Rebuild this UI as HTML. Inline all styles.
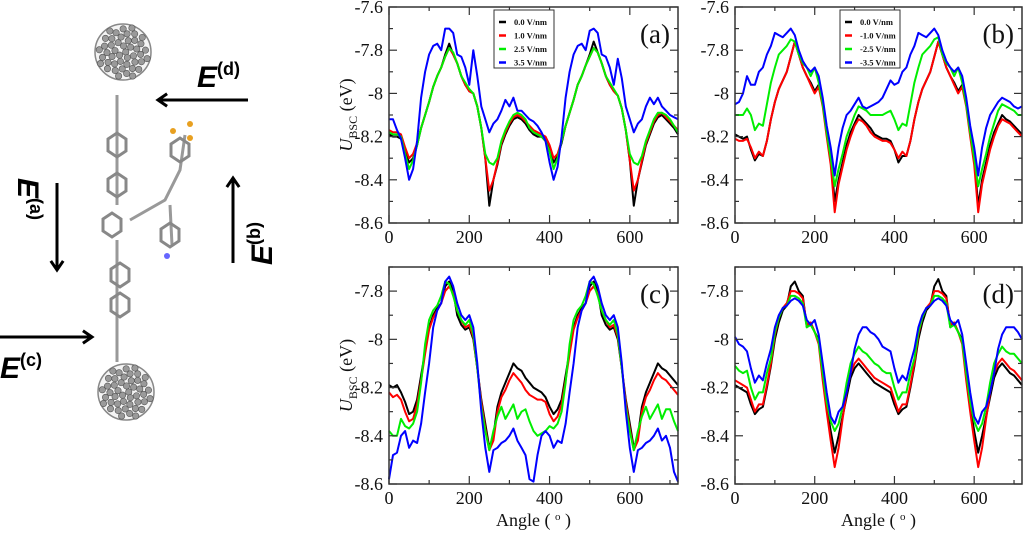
<!DOCTYPE html>
<html><head><meta charset="utf-8">
<style>
body{margin:0;background:#fff;width:1024px;height:535px;overflow:hidden;font-family:"Liberation Serif",serif}
svg{position:absolute;left:0;top:0}
</style></head><body>
<svg id="svg" width="1024" height="535" viewBox="0 0 1024 535">
<g id="mol"></g>
<g id="charts"></g>
</svg>
<script>
const angles=[];for(let a=0;a<=720;a+=10)angles.push(a);
const xTicks=[0,200,400,600];
const yTicksTop=[-7.6,-7.8,-8,-8.2,-8.4,-8.6];
const yTicksBottom=[-7.8,-8,-8.2,-8.4,-8.6];
const legendA=["0.0 V/nm","1.0 V/nm","2.5 V/nm","3.5 V/nm"];
const legendB=["0.0 V/nm","-1.0 V/nm","-2.5 V/nm","-3.5 V/nm"];
const colors=["#000","#f00","#0e0","#00f"];

const a0=[-8.19,-8.20,-8.20,-8.21,-8.27,-8.32,-8.30,-8.24,-8.16,-8.10,-8.04,-7.97,-7.92,-7.88,-7.82,-7.77,-7.82,-7.86,-7.92,-7.96,-7.99,-8.00,-8.06,-8.16,-8.30,-8.52,-8.40,-8.33,-8.24,-8.19,-8.15,-8.12,-8.11,-8.12,-8.14,-8.17,
-8.19,-8.20,-8.20,-8.22,-8.25,-8.32,-8.29,-8.23,-8.15,-8.09,-8.03,-7.96,-7.92,-7.87,-7.82,-7.76,-7.81,-7.86,-7.92,-7.96,-7.99,-8.01,-8.07,-8.17,-8.31,-8.52,-8.40,-8.32,-8.24,-8.19,-8.14,-8.11,-8.10,-8.12,-8.14,-8.16,-8.19];
const a1=[-8.17,-8.18,-8.18,-8.19,-8.25,-8.30,-8.28,-8.23,-8.16,-8.10,-8.04,-7.97,-7.92,-7.88,-7.83,-7.79,-7.82,-7.86,-7.92,-7.96,-7.99,-8.00,-8.06,-8.16,-8.30,-8.45,-8.40,-8.32,-8.23,-8.18,-8.14,-8.11,-8.10,-8.11,-8.13,-8.15,
-8.17,-8.18,-8.19,-8.20,-8.24,-8.30,-8.28,-8.22,-8.15,-8.09,-8.03,-7.96,-7.92,-7.87,-7.83,-7.79,-7.81,-7.86,-7.92,-7.96,-7.99,-8.01,-8.07,-8.17,-8.31,-8.45,-8.40,-8.31,-8.23,-8.18,-8.13,-8.10,-8.09,-8.11,-8.13,-8.15,-8.17];
const a2=[-8.18,-8.19,-8.19,-8.20,-8.28,-8.35,-8.31,-8.24,-8.16,-8.10,-8.04,-7.97,-7.92,-7.88,-7.83,-7.79,-7.81,-7.86,-7.92,-7.95,-7.98,-8.00,-8.06,-8.16,-8.28,-8.32,-8.33,-8.30,-8.22,-8.17,-8.13,-8.10,-8.09,-8.10,-8.12,-8.16,
-8.18,-8.19,-8.20,-8.22,-8.27,-8.35,-8.30,-8.22,-8.15,-8.09,-8.03,-7.96,-7.92,-7.87,-7.83,-7.79,-7.81,-7.86,-7.92,-7.95,-7.98,-8.01,-8.07,-8.17,-8.28,-8.32,-8.33,-8.29,-8.22,-8.17,-8.12,-8.09,-8.09,-8.10,-8.12,-8.15,-8.18];
const a3=[-8.12,-8.12,-8.17,-8.21,-8.30,-8.40,-8.35,-8.22,-8.02,-7.90,-7.82,-7.78,-7.77,-7.80,-7.70,-7.70,-7.72,-7.82,-7.83,-7.88,-7.96,-7.80,-7.92,-8.06,-8.12,-8.18,-8.14,-8.12,-8.08,-8.03,-8.06,-8.02,-8.08,-8.08,-8.10,-8.12,
-8.13,-8.15,-8.18,-8.22,-8.32,-8.40,-8.34,-8.20,-8.02,-7.90,-7.82,-7.78,-7.77,-7.80,-7.71,-7.70,-7.72,-7.82,-7.83,-7.88,-7.96,-7.84,-7.93,-8.06,-8.12,-8.18,-8.14,-8.12,-8.06,-8.02,-8.05,-8.02,-8.06,-8.08,-8.10,-8.11,-8.12];

const b0=[-8.19,-8.20,-8.21,-8.20,-8.26,-8.31,-8.28,-8.29,-8.22,-8.12,-8.04,-7.98,-7.94,-7.90,-7.83,-7.76,-7.82,-7.88,-7.92,-7.95,-7.99,-7.96,-8.05,-8.18,-8.30,-8.50,-8.40,-8.32,-8.24,-8.18,-8.14,-8.10,-8.12,-8.14,-8.16,-8.19,
-8.20,-8.21,-8.21,-8.22,-8.26,-8.32,-8.29,-8.29,-8.22,-8.12,-8.04,-7.98,-7.94,-7.90,-7.83,-7.76,-7.82,-7.88,-7.92,-7.95,-7.99,-7.96,-8.05,-8.18,-8.30,-8.52,-8.40,-8.32,-8.24,-8.18,-8.14,-8.10,-8.12,-8.13,-8.15,-8.17,-8.19];
const b1=[-8.21,-8.22,-8.22,-8.21,-8.25,-8.30,-8.27,-8.29,-8.22,-8.12,-8.04,-7.98,-7.94,-7.90,-7.83,-7.76,-7.82,-7.88,-7.92,-7.96,-8.00,-7.97,-8.06,-8.20,-8.33,-8.55,-8.42,-8.34,-8.26,-8.20,-8.15,-8.12,-8.13,-8.15,-8.18,-8.20,
-8.21,-8.22,-8.22,-8.23,-8.26,-8.30,-8.27,-8.29,-8.22,-8.12,-8.04,-7.98,-7.94,-7.90,-7.83,-7.76,-7.82,-7.88,-7.92,-7.96,-8.00,-7.97,-8.06,-8.20,-8.33,-8.55,-8.42,-8.34,-8.26,-8.20,-8.15,-8.12,-8.13,-8.14,-8.16,-8.18,-8.20];
const b2=[-8.10,-8.10,-8.10,-8.07,-8.10,-8.17,-8.14,-8.15,-8.05,-7.95,-7.88,-7.82,-7.80,-7.78,-7.75,-7.76,-7.82,-7.86,-7.88,-7.92,-7.88,-7.95,-8.05,-8.18,-8.30,-8.43,-8.35,-8.28,-8.20,-8.15,-8.10,-8.06,-8.07,-8.08,-8.10,-8.10,
-8.10,-8.10,-8.09,-8.08,-8.12,-8.17,-8.14,-8.15,-8.05,-7.95,-7.88,-7.82,-7.80,-7.78,-7.75,-7.74,-7.82,-7.86,-7.88,-7.92,-7.88,-7.95,-8.05,-8.18,-8.30,-8.43,-8.35,-8.28,-8.20,-8.14,-8.08,-8.05,-8.06,-8.07,-8.08,-8.10,-8.10];
const b3=[-8.05,-8.04,-8.00,-7.92,-7.96,-7.96,-7.90,-7.88,-7.82,-7.78,-7.72,-7.73,-7.74,-7.72,-7.70,-7.73,-7.80,-7.85,-7.88,-7.90,-7.88,-7.92,-8.02,-8.15,-8.25,-8.38,-8.25,-8.16,-8.10,-8.08,-8.05,-8.02,-8.06,-8.07,-8.06,-8.05,
-8.04,-8.02,-7.98,-7.94,-7.96,-7.95,-7.90,-7.88,-7.82,-7.78,-7.72,-7.73,-7.74,-7.72,-7.70,-7.73,-7.80,-7.85,-7.88,-7.90,-7.88,-7.92,-8.02,-8.15,-8.25,-8.38,-8.25,-8.16,-8.10,-8.07,-8.04,-8.02,-8.03,-8.04,-8.06,-8.07,-8.06];

const c0=[-8.19,-8.20,-8.19,-8.22,-8.26,-8.31,-8.30,-8.25,-8.15,-8.05,-7.95,-7.90,-7.87,-7.85,-7.78,-7.76,-7.80,-7.90,-7.94,-7.96,-7.95,-8.00,-8.12,-8.25,-8.35,-8.45,-8.40,-8.28,-8.22,-8.18,-8.14,-8.10,-8.12,-8.13,-8.16,-8.18,
-8.20,-8.21,-8.22,-8.24,-8.28,-8.31,-8.29,-8.25,-8.15,-8.05,-7.95,-7.90,-7.87,-7.85,-7.78,-7.76,-7.80,-7.90,-7.94,-7.96,-7.95,-8.00,-8.12,-8.25,-8.35,-8.45,-8.40,-8.28,-8.22,-8.18,-8.14,-8.10,-8.12,-8.13,-8.15,-8.17,-8.19];
const c1=[-8.22,-8.24,-8.23,-8.25,-8.30,-8.34,-8.33,-8.27,-8.17,-8.06,-7.96,-7.91,-7.88,-7.85,-7.80,-7.78,-7.81,-7.88,-7.92,-7.95,-7.94,-7.99,-8.12,-8.26,-8.37,-8.46,-8.42,-8.30,-8.24,-8.21,-8.17,-8.14,-8.16,-8.18,-8.21,-8.23,
-8.24,-8.25,-8.25,-8.26,-8.31,-8.34,-8.32,-8.27,-8.17,-8.06,-7.96,-7.91,-7.88,-7.85,-7.80,-7.78,-7.81,-7.88,-7.92,-7.95,-7.94,-7.99,-8.12,-8.26,-8.37,-8.46,-8.42,-8.30,-8.24,-8.21,-8.17,-8.14,-8.16,-8.17,-8.19,-8.21,-8.23];
const c2=[-8.38,-8.40,-8.40,-8.33,-8.36,-8.37,-8.35,-8.30,-8.18,-8.02,-7.92,-7.88,-7.86,-7.82,-7.76,-7.77,-7.82,-7.88,-7.92,-7.94,-7.92,-7.98,-8.12,-8.28,-8.38,-8.46,-8.38,-8.32,-8.28,-8.33,-8.30,-8.27,-8.33,-8.30,-8.29,-8.34,
-8.38,-8.40,-8.39,-8.38,-8.36,-8.37,-8.35,-8.30,-8.18,-8.02,-7.92,-7.88,-7.86,-7.82,-7.76,-7.77,-7.82,-7.88,-7.92,-7.94,-7.92,-7.98,-8.12,-8.28,-8.38,-8.46,-8.38,-8.32,-8.28,-8.33,-8.30,-8.27,-8.33,-8.29,-8.29,-8.34,-8.38];
const c3=[-8.58,-8.48,-8.47,-8.40,-8.38,-8.45,-8.42,-8.43,-8.35,-8.22,-8.10,-7.95,-7.88,-7.85,-7.76,-7.74,-7.78,-7.85,-7.90,-7.92,-7.90,-7.95,-8.10,-8.30,-8.45,-8.55,-8.46,-8.45,-8.43,-8.42,-8.40,-8.37,-8.42,-8.45,-8.48,-8.58,
-8.59,-8.48,-8.40,-8.38,-8.40,-8.45,-8.42,-8.43,-8.35,-8.22,-8.10,-7.95,-7.88,-7.85,-7.76,-7.74,-7.78,-7.85,-7.90,-7.92,-7.90,-7.95,-8.10,-8.30,-8.45,-8.55,-8.46,-8.45,-8.43,-8.42,-8.40,-8.37,-8.42,-8.40,-8.45,-8.55,-8.59];

const d0=[-8.19,-8.20,-8.21,-8.22,-8.27,-8.31,-8.29,-8.28,-8.20,-8.11,-8.00,-7.93,-7.88,-7.86,-7.78,-7.76,-7.80,-7.82,-7.95,-7.93,-7.97,-8.00,-8.15,-8.28,-8.38,-8.47,-8.40,-8.32,-8.24,-8.16,-8.12,-8.10,-8.12,-8.14,-8.16,-8.18,
-8.19,-8.20,-8.21,-8.22,-8.27,-8.31,-8.29,-8.28,-8.20,-8.11,-8.00,-7.93,-7.88,-7.86,-7.78,-7.75,-7.80,-7.82,-7.95,-7.93,-7.97,-8.00,-8.15,-8.28,-8.38,-8.47,-8.40,-8.32,-8.24,-8.16,-8.12,-8.10,-8.12,-8.14,-8.15,-8.17,-8.19];
const d1=[-8.17,-8.18,-8.19,-8.20,-8.25,-8.30,-8.27,-8.27,-8.19,-8.10,-7.98,-7.91,-7.87,-7.85,-7.80,-7.80,-7.81,-7.83,-7.94,-7.93,-7.97,-8.02,-8.17,-8.30,-8.42,-8.53,-8.45,-8.33,-8.22,-8.14,-8.10,-8.08,-8.10,-8.12,-8.14,-8.16,
-8.17,-8.18,-8.19,-8.20,-8.25,-8.30,-8.27,-8.27,-8.19,-8.10,-7.98,-7.91,-7.87,-7.85,-7.80,-7.80,-7.81,-7.83,-7.94,-7.93,-7.97,-8.02,-8.17,-8.30,-8.42,-8.53,-8.45,-8.33,-8.22,-8.14,-8.10,-8.08,-8.10,-8.12,-8.13,-8.15,-8.17];
const d2=[-8.11,-8.13,-8.14,-8.13,-8.20,-8.25,-8.22,-8.22,-8.14,-8.08,-7.97,-7.91,-7.87,-7.86,-7.82,-7.82,-7.83,-7.85,-7.95,-7.94,-7.97,-8.01,-8.14,-8.26,-8.34,-8.38,-8.35,-8.28,-8.18,-8.10,-8.06,-8.03,-8.05,-8.06,-8.08,-8.10,
-8.11,-8.13,-8.14,-8.14,-8.20,-8.25,-8.22,-8.22,-8.14,-8.08,-7.97,-7.91,-7.87,-7.86,-7.82,-7.82,-7.83,-7.85,-7.95,-7.94,-7.97,-8.01,-8.14,-8.26,-8.34,-8.38,-8.35,-8.28,-8.18,-8.10,-8.06,-8.03,-8.05,-8.06,-8.06,-8.08,-8.10];
const d3=[-7.99,-8.02,-8.03,-8.05,-8.12,-8.18,-8.15,-8.17,-8.10,-8.04,-7.95,-7.90,-7.87,-7.86,-7.84,-7.83,-7.84,-7.86,-7.92,-7.94,-7.92,-7.98,-8.10,-8.22,-8.32,-8.35,-8.30,-8.28,-8.22,-8.14,-8.04,-7.98,-7.95,-7.95,-7.97,-7.98,
-8.00,-8.03,-8.04,-8.05,-8.12,-8.18,-8.15,-8.17,-8.10,-8.04,-7.95,-7.90,-7.87,-7.86,-7.84,-7.83,-7.84,-7.86,-7.92,-7.94,-7.92,-7.98,-8.10,-8.22,-8.32,-8.35,-8.30,-8.28,-8.22,-8.14,-8.04,-7.98,-7.95,-7.95,-7.95,-7.97,-8.00];

const NS='http://www.w3.org/2000/svg';
function el(tag,attrs,parent,text){const e=document.createElementNS(NS,tag);for(const k in attrs)e.setAttribute(k,attrs[k]);if(text!==undefined)e.textContent=text;parent.appendChild(e);return e;}
const charts=document.getElementById('charts');

function panel(cfg){
  const g=el('g',{},charts);
  
  
  const {x0,x1,y0,y1,ymax,ymin}=cfg;
  const sx=v=>x0+(v-0)/(720-0)*(x1-x0);
  const sy=v=>y0+(ymax-v)/(ymax-ymin)*(y1-y0);
  const sg=el('g',{},g);
  
  
  cfg.series.forEach((s,i)=>{
    const d=angles.map((a,j)=>(j?'L':'M')+sx(a).toFixed(1)+','+sy(s[j]).toFixed(1)).join('');
    const p=el('path',{d:d,fill:'none',stroke:colors[i],'stroke-width':2,'stroke-linejoin':'round'},sg);
    
    
  });
  const fr=el('rect',{x:x0,y:y0,width:x1-x0,height:y1-y0,fill:'none',stroke:'#333','stroke-width':1.5},g);
  
  
  for(let a=0;a<=720;a+=100){
    const L=a%200===0?8:4;
    el('line',{x1:sx(a),x2:sx(a),y1:y1,y2:y1-L,stroke:'#333','stroke-width':1.2},g);
    el('line',{x1:sx(a),x2:sx(a),y1:y0,y2:y0+L,stroke:'#333','stroke-width':1.2},g);
  }
  xTicks.forEach(a=>{
    const t=el('text',{x:sx(a),y:y1+20,'font-size':18,'text-anchor':'middle',fill:'#111'},g,String(a));
    
    
  });
  for(let k=Math.round(ymin*10);k<=Math.round(ymax*10);k++){
    const v=k/10;const L=(k%2===0)?8:4;
    el('line',{x1:x0,x2:x0+L,y1:sy(v),y2:sy(v),stroke:'#333','stroke-width':1.2},g);
    el('line',{x1:x1,x2:x1-L,y1:sy(v),y2:sy(v),stroke:'#333','stroke-width':1.2},g);
  }
  cfg.yt.forEach(v=>{
    const t=el('text',{x:x0-6,y:sy(v)+6,'font-size':18,'text-anchor':'end',fill:'#111'},g,v===-8?'-8':v.toFixed(1));
    
    
  });
  const lab=el('text',{x:x1-8,y:y0+36,'font-size':27,'text-anchor':'end',fill:'#111'},g,'('+cfg.id+')');
  
  
  if(cfg.legend){
    const lg=el('g',{},g);
    
    
    const lx=x0+105;
    el('rect',{x:lx,y:y0+3,width:60,height:58,fill:'#fff',stroke:'#333','stroke-width':1},lg);
    cfg.legend.forEach((txt,i)=>{
      const yy=y0+15+i*13.5;
      el('line',{x1:lx+5,x2:lx+12,y1:yy,y2:yy,stroke:colors[i],'stroke-width':2.5},lg);
      const t=el('text',{x:lx+20,y:yy+3,'font-size':8.5,'font-weight':'bold',fill:'#111'},lg,txt);
      
      
    });
  }
  if(cfg.xtitle){
    const t=el('text',{x:(x0+x1)/2,y:y1+42,'font-size':18,'text-anchor':'middle',fill:'#111'},g);
    t.textContent='Angle ( ';
    el('tspan',{'baseline-shift':'super','font-size':11},t,'o');
    el('tspan',{},t,' )');
    
    
  }
  if(cfg.ytitle){
    const cy=(y0+y1)/2;
    const t=el('text',{x:0,y:0,'font-size':18,'text-anchor':'middle',fill:'#111',transform:`translate(${x0-37},${cy}) rotate(-90)`},g);
    el('tspan',{'font-style':'italic'},t,'U');
    el('tspan',{'font-size':12,dy:5},t,'BSC');
    el('tspan',{dy:-5},t,' (eV)');
    
    
  }
}
panel({id:'a',x0:389,x1:678,y0:7,y1:223,ymax:-7.6,ymin:-8.6,yt:yTicksTop,series:[a0,a1,a2,a3],legend:legendA,ytitle:true});
panel({id:'b',x0:735,x1:1022,y0:7,y1:223,ymax:-7.6,ymin:-8.6,yt:yTicksTop,series:[b0,b1,b2,b3],legend:legendB});
panel({id:'c',x0:389,x1:678,y0:267,y1:484,ymax:-7.7,ymin:-8.6,yt:yTicksBottom,series:[c0,c1,c2,c3],xtitle:true,ytitle:true});
panel({id:'d',x0:735,x1:1022,y0:267,y1:484,ymax:-7.7,ymin:-8.6,yt:yTicksBottom,series:[d0,d1,d2,d3],xtitle:true});

const mol=document.getElementById('mol');
function ball(cx,cy,r,name){
  const g=el('g',{},mol);
  
  
  el('circle',{cx:cx,cy:cy,r:r,fill:'#f4f4f4',stroke:'#888','stroke-width':1.5},g);
  for(let i=0;i<46;i++){
    const ang=i*2.4,rr=(r-2)*Math.sqrt((i+0.5)/46);
    el('circle',{cx:cx+rr*Math.cos(ang),cy:cy+rr*Math.sin(ang),r:3.2,fill:'#9a9a9a',stroke:'#555','stroke-width':0.6},g);
  }
}
ball(123,52,28,'c60-top');
ball(126,392,28,'c60-bottom');
const chain=el('g',{stroke:'#999','stroke-width':3,fill:'none'},mol);


el('path',{d:'M117,95 L117,205 M117,240 L117,362 M130,220 L165,200 L180,170 L185,135 M170,205 L172,245'},chain);
[[117,145],[117,185],[112,225],[120,275],[120,305]].forEach(([x,y])=>el('polygon',{points:`${x-9},${y-6} ${x},${y-12} ${x+9},${y-6} ${x+9},${y+6} ${x},${y+12} ${x-9},${y+6}`,stroke:'#888','stroke-width':3},chain));
[[180,150],[170,235]].forEach(([x,y])=>el('polygon',{points:`${x-9},${y-6} ${x},${y-12} ${x+9},${y-6} ${x+9},${y+6} ${x},${y+12} ${x-9},${y+6}`,stroke:'#888','stroke-width':3},chain));
el('circle',{cx:173,cy:131,r:3,fill:'#e8a020'},mol);el('circle',{cx:190,cy:124,r:3,fill:'#e8a020'},mol);el('circle',{cx:190,cy:138,r:3,fill:'#e8a020'},mol);
el('circle',{cx:167,cy:256,r:3,fill:'#66f'},mol);

function arrow(x1,y1,x2,y2,name){
  const g=el('g',{stroke:'#000','stroke-width':3,fill:'none'},mol);
  
  
  el('line',{x1:x1,y1:y1,x2:x2,y2:y2},g);
  const a=Math.atan2(y2-y1,x2-x1),h=11;
  el('path',{d:`M${x2-h*Math.cos(a-0.6)},${y2-h*Math.sin(a-0.6)} L${x2},${y2} L${x2-h*Math.cos(a+0.6)},${y2-h*Math.sin(a+0.6)}`},g);
}
arrow(248,100,158,100,'arrow-e-d');
arrow(57,183,57,270,'arrow-e-a');
arrow(233,263,233,178,'arrow-e-b');
arrow(0,337,92,337,'arrow-e-c');
function elabel(x,y,sup,rot,name){
  const t=el('text',{x:0,y:0,'font-family':'Liberation Sans, sans-serif','font-weight':'bold','font-style':'italic','font-size':30,fill:'#000',transform:`translate(${x},${y}) rotate(${rot})`},mol);
  t.textContent='E';
  el('tspan',{'font-size':18,dy:-12,'font-style':'normal'},t,'('+sup+')');
  
  
}
elabel(197,87,'d',0,'label-e-d');
elabel(0,378,'c',0,'label-e-c');
elabel(18,178,'a',90,'label-e-a');
elabel(272,265,'b',-90,'label-e-b');
</script>
</body></html>
